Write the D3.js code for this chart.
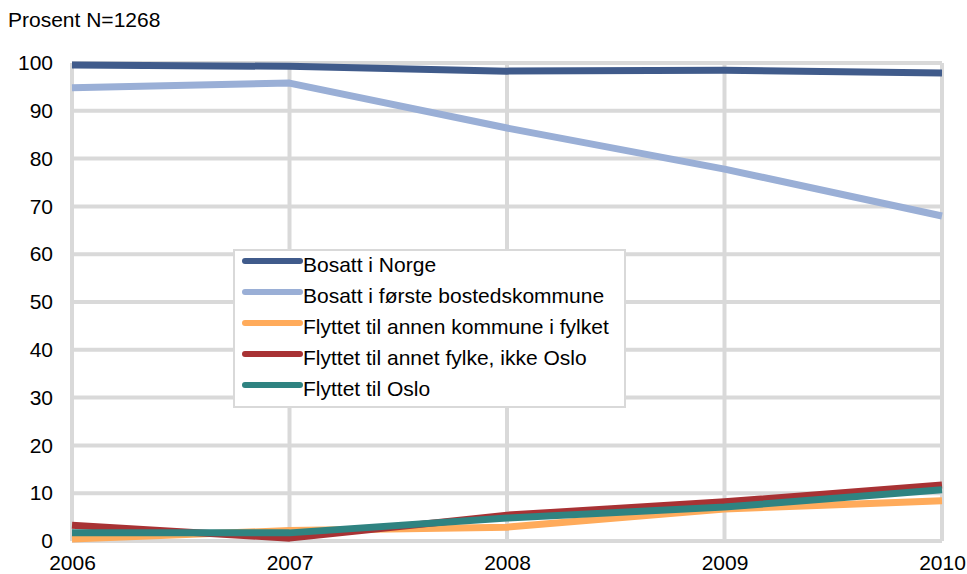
<!DOCTYPE html>
<html>
<head>
<meta charset="utf-8"/>
<script src="https://cdn.jsdelivr.net/npm/d3@7"></script>
<style>
  body { margin: 0; background: #fff; }
  svg text { font-family: "Liberation Sans", Arial, sans-serif; font-size: 21px; fill: #000; }
</style>
</head>
<body>
<div id="chart"></div>
<script>
// data
var years = [2006, 2007, 2008, 2009, 2010];
var yTicks = [0, 10, 20, 30, 40, 50, 60, 70, 80, 90, 100];
var seriesNames = [
  "Bosatt i Norge",
  "Bosatt i første bostedskommune",
  "Flyttet til annen kommune i fylket",
  "Flyttet til annet fylke, ikke Oslo",
  "Flyttet til Oslo"
];
var bosattNorge   = [99.6, 99.3, 98.3, 98.5, 97.9];
var bosattForste  = [94.8, 95.8, 86.4, 77.8, 68.0];
var annenKommune  = [0.4, 2.2, 2.9, 6.7, 8.4];
var annetFylke    = [3.3, 0.6, 5.4, 8.2, 11.7];
var oslo          = [1.7, 1.7, 4.8, 7.1, 10.7];
var colors = ["#405b8b", "#9aafd6", "#ffab5b", "#a83234", "#2f8381"];

var allSeries = [bosattNorge, bosattForste, annenKommune, annetFylke, oslo];

var W = 967, H = 574;
var svg = d3.select("#chart").append("svg").attr("width", W).attr("height", H);

var x = d3.scalePoint().domain(years).range([72, 942]);
var y = d3.scaleLinear().domain([0, 100]).range([541, 63]);

svg.append("text").attr("x", 8).attr("y", 27).text("Prosent N=1268");

// grid
var grid = svg.append("g").attr("stroke", "#d9d9d9").attr("stroke-width", 4);
grid.selectAll("line.h").data(yTicks).enter().append("line")
  .attr("x1", x(years[0])).attr("x2", x(years[years.length - 1]))
  .attr("y1", function(d) { return y(d); }).attr("y2", function(d) { return y(d); });
grid.selectAll("line.v").data(years).enter().append("line")
  .attr("x1", function(d) { return x(d); }).attr("x2", function(d) { return x(d); })
  .attr("y1", y(0)).attr("y2", y(100));

// axes
var yAxis = svg.append("g").attr("transform", "translate(" + x(years[0]) + ",0)")
  .call(d3.axisLeft(y).tickValues(yTicks).tickSize(0).tickPadding(19));
yAxis.select(".domain").remove();

var xAxis = svg.append("g").attr("transform", "translate(0," + y(0) + ")")
  .call(d3.axisBottom(x).tickFormat(d3.format("d")).tickSize(0).tickPadding(14));
xAxis.select(".domain").remove();

// lines
var line = d3.line()
  .x(function(d, i) { return x(years[i]); })
  .y(function(d) { return y(d); });

svg.append("g").selectAll("path").data(allSeries).enter().append("path")
  .attr("d", line)
  .attr("fill", "none")
  .attr("stroke", function(d, i) { return colors[i]; })
  .attr("stroke-width", 7)
  .attr("stroke-linejoin", "round");

// legend
var lg = svg.append("g").attr("transform", "translate(234,250)");
lg.append("rect").attr("width", 391).attr("height", 157)
  .attr("fill", "#fff").attr("stroke", "#d9d9d9").attr("stroke-width", 2);
var items = lg.selectAll("g.item").data(seriesNames).enter().append("g")
  .attr("transform", function(d, i) { return "translate(0," + (11 + i * 31) + ")"; });
items.append("line").attr("x1", 11).attr("x2", 66).attr("y1", 0).attr("y2", 0)
  .attr("stroke", function(d, i) { return colors[i]; })
  .attr("stroke-width", 6).attr("stroke-linecap", "round");
items.append("text").attr("x", 69).attr("y", 11).text(function(d) { return d; });
</script>
</body>
</html>
